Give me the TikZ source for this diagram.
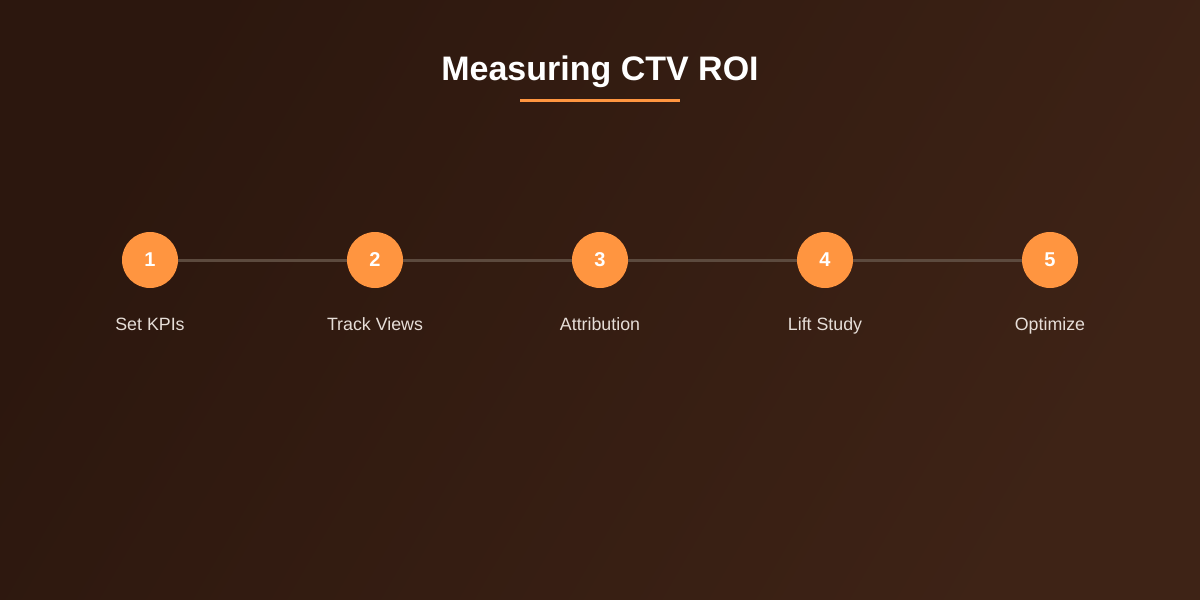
\documentclass[tikz,border=0pt]{standalone}
\usepackage{fontspec}
\setmainfont{Liberation Sans}
\definecolor{bgA}{HTML}{2C170E}
\definecolor{bgB}{HTML}{3E2316}
\definecolor{accent}{HTML}{FF9540}
\definecolor{linkc}{HTML}{5C4A3E}
\definecolor{labelc}{HTML}{E6DED8}
\begin{document}
\begin{tikzpicture}[x=1pt,y=-1pt,
  stepnode/.style={circle,fill=accent,minimum size=56pt,inner sep=0pt,text=white,font=\fontsize{20}{20}\selectfont\bfseries},
  steplabel/.style={text=labelc,font=\fontsize{17.8}{17.8}\selectfont,anchor=base},
  link/.style={draw=linkc,line width=3pt}]
\shade[left color=bgA,right color=bgB,shading angle=60] (0,0) rectangle (1200,600);
\useasboundingbox (0,0) rectangle (1200,600);
\node[text=white,font=\fontsize{34}{34}\selectfont\bfseries,anchor=base] (title) at (600,80) {Measuring CTV ROI};
\coordinate (ulA) at (520,100);
\coordinate (ulB) at (680,100);
\draw[accent,line width=3pt] (ulA) -- (ulB);
\foreach \i/\x/\t in {1/150/Set KPIs,2/375/Track Views,3/600/Attribution,4/825/Lift Study,5/1050/Optimize}{
  \node[steplabel] (l\i) at (\x,330) {\t};
}
\draw[link] (150,260) coordinate (c1) -- (1050,260) coordinate (c5);
\foreach \i/\x in {1/150,2/375,3/600,4/825,5/1050}{
  \node[stepnode] (s\i) at (\x,260) {\i};
}
\end{tikzpicture}
\end{document}
